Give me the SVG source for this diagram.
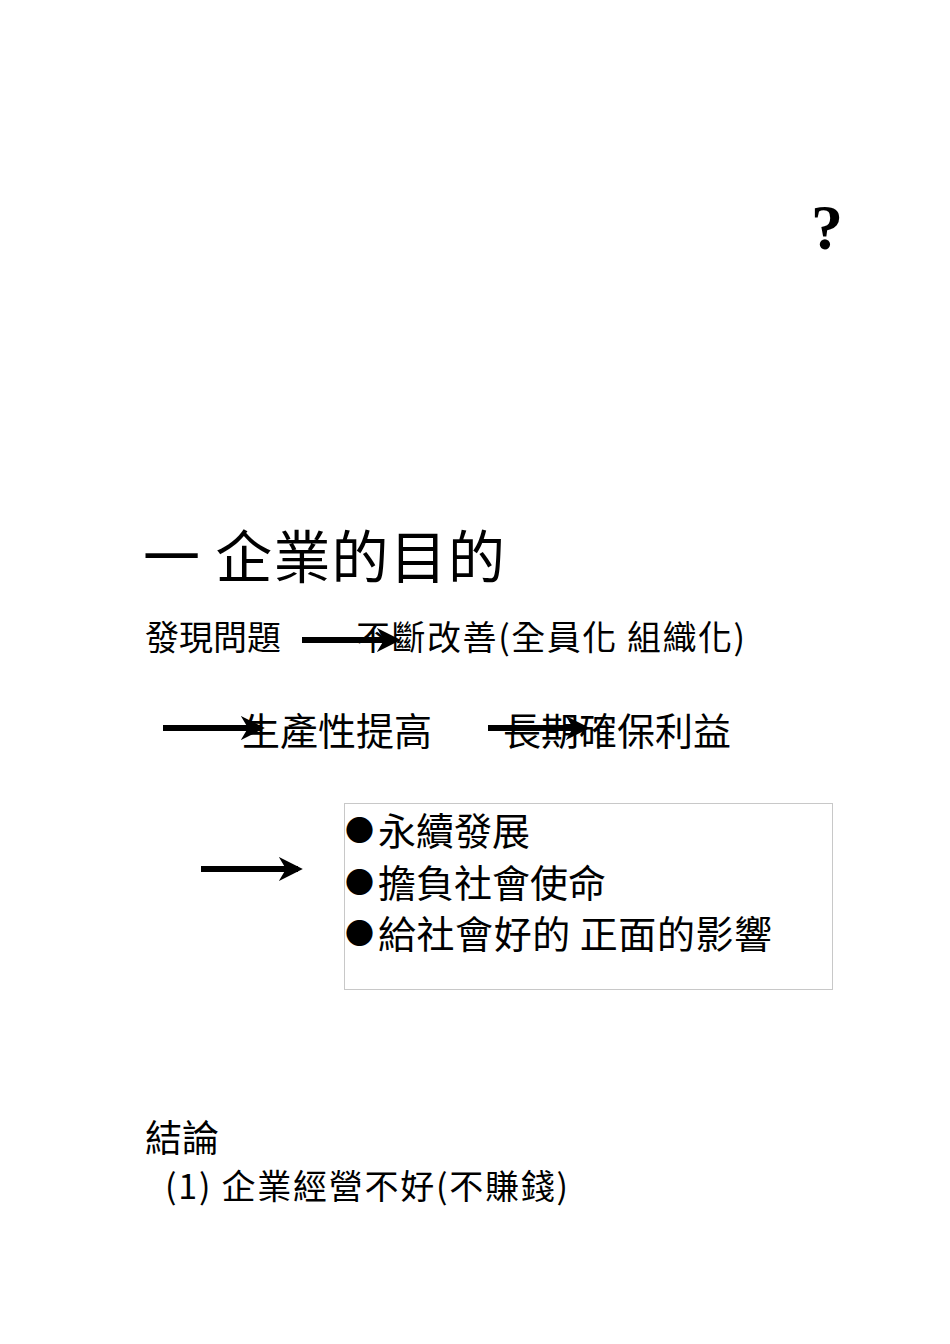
<svg xmlns="http://www.w3.org/2000/svg" width="950" height="1344" viewBox="0 0 950 1344">
<style>
text{font-family:"Noto Sans CJK TC","Noto Sans CJK SC",sans-serif;fill:#000}
.a{stroke:#000;stroke-width:6;fill:none}
.b{font-size:29px}
</style>
<defs>
<marker id="h" viewBox="0 0 10 10" refX="8" refY="5" markerWidth="4" markerHeight="4" orient="auto" markerUnits="strokeWidth"><path d="M0,0 L10,5 L0,10 L3,5 Z" fill="#000"/></marker>
</defs>
<rect width="950" height="1344" fill="#fff"/>
<text x="811" y="249" style="font-family:'Liberation Serif',serif;font-weight:bold;font-size:64px">?</text>
<g id="title"><text x="143" y="578" font-size="57" textLength="362" lengthAdjust="spacing">一 企業的目的</text></g>
<g id="n1"><text x="145" y="650" font-size="34">發現問題</text></g>
<g id="n2"><text x="356" y="650" font-size="34" textLength="389" lengthAdjust="spacing">不斷改善(全員化 組織化)</text></g>
<g id="n3"><text x="242" y="745" font-size="38">生產性提高</text></g>
<g id="n4"><text x="503" y="745" font-size="38">長期確保利益</text></g>
<g id="box">
<rect x="344.5" y="803.5" width="488" height="186" fill="none" stroke="#c8c8c8" stroke-width="1"/>
<text class="b" x="345" y="841">●</text>
<text x="378" y="845" font-size="38">永續發展</text>
<text class="b" x="345" y="893">●</text>
<text x="378" y="897" font-size="38">擔負社會使命</text>
<text class="b" x="345" y="944">●</text>
<text x="378" y="948" font-size="38" textLength="394" lengthAdjust="spacing">給社會好的 正面的影響</text>
</g>
<g id="conclusion">
<text x="145" y="1152" font-size="37">結論</text>
<text x="165" y="1199" font-size="34" textLength="403" lengthAdjust="spacing">(1) 企業經營不好(不賺錢)</text>
</g>
<g id="connectors">
<line class="a" x1="302" y1="640" x2="396" y2="640" marker-end="url(#h)"/>
<line class="a" x1="163" y1="728" x2="260" y2="728" marker-end="url(#h)"/>
<line class="a" x1="488" y1="728" x2="585" y2="728" marker-end="url(#h)"/>
<line class="a" x1="201" y1="869" x2="298" y2="869" marker-end="url(#h)"/>
</g>
</svg>
